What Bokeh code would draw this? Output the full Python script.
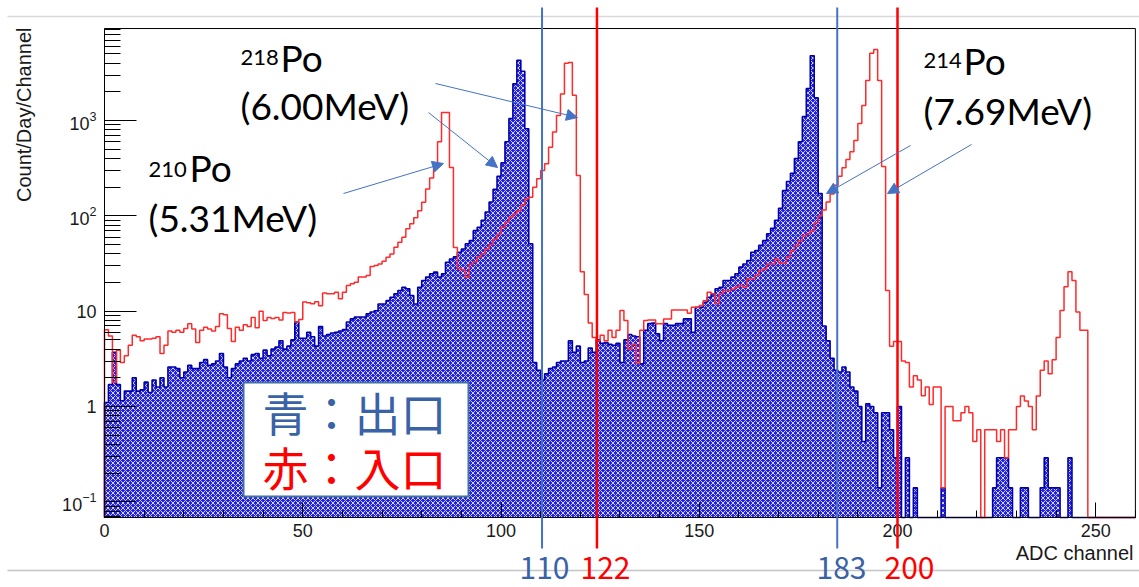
from math import pi

from bokeh.embed import file_html
from bokeh.models import Arrow, BoxAnnotation, Label, NormalHead, Range1d, SingleIntervalTicker
from bokeh.plotting import figure
from bokeh.resources import INLINE

# ---------- data: counts per day per ADC channel (1 channel bins, 0..259) ----------
channels = list(range(260))

# outlet (blue, hatched)
blue_counts = [
    1.1, 1.7, 3.7, 1.7, 1.15, 1.45, 1.45, 2.0, 1.45, 1.5,
    1.8, 1.4, 1.9, 1.6, 2.0, 1.6, 2.6, 2.6, 2.5, 2.0,
    2.3, 2.7, 2.5, 2.5, 2.9, 3.1, 2.7, 2.8, 3.0, 3.6,
    2.6, 2.0, 2.5, 2.8, 3.0, 3.2, 3.0, 3.5, 3.6, 3.2,
    3.9, 3.4, 4.0, 4.2, 4.9, 4.0, 4.3, 5.0, 7.7, 5.2,
    5.2, 6.0, 5.4, 4.3, 6.9, 5.5, 5.7, 5.9, 6.0, 6.2,
    6.4, 7.7, 8.3, 8.7, 8.7, 8.7, 9.4, 9.8, 10.1, 11.9,
    11.9, 12.9, 14.0, 15.2, 16.5, 17.8, 17.2, 14.6, 11.9, 17.8,
    21, 22.8, 24.7, 25.7, 22.8, 24.7, 32.6, 35.3, 37.3, 41.5,
    45, 51, 55, 70, 76, 90, 110, 140, 190, 260,
    360, 600, 1050, 2430, 4300, 3300, 820, 51, 2.9, 2.4,
    1.9, 2.2, 2.5, 2.6, 2.9, 3.0, 3.0, 4.9, 3.7, 4.3,
    2.9, 3.0, 4.1, 3.7, 5.0, 4.6, 4.7, 4.5, 4.4, 4.6,
    2.9, 5.0, 5.7, 5.5, 5.4, 2.8, 6.3, 7.4, 7.5, 5.8,
    4.9, 7.4, 7.1, 7.1, 7.4, 7.4, 8.3, 8.3, 6.0, 11,
    11, 12.4, 14, 15.2, 17.2, 17.8, 21, 21, 22.8, 24.7,
    29, 31.3, 34, 41.5, 43.2, 49, 55, 65, 74, 90,
    120, 184, 230, 280, 400, 600, 1100, 2170, 4800, 1740,
    172, 7, 4.9, 3.2, 2.4, 2.3, 2.6, 2.3, 1.6, 1.45,
    1.0, 0.43, 1.07, 1.0, 0.86, 0.14, 0.86, 0.86, 0.57, 0.29,
    1.0, 0, 0.29, 0, 0.14, 0, 0, 0, 0, 0,
    0, 0.14, 0, 0, 0, 0, 0, 0, 0, 0,
    0, 0, 0, 0, 0.14, 0.29, 0.29, 0.29, 0.14, 0,
    0, 0.14, 0.14, 0, 0, 0, 0.14, 0.29, 0.14, 0.14,
    0.14, 0, 0, 0.29, 0, 0, 0, 0, 0, 0,
    0, 0, 0, 0, 0, 0, 0, 0, 0, 0,
]

# inlet (red line)
red_counts = [
    6.4, 5.5, 1.8, 3.9, 2.9, 3.4, 4.4, 5.6, 5.4, 4.9,
    5.1, 5.1, 5.2, 5.4, 3.6, 4.4, 6.2, 6.0, 6.3, 6.0,
    6.6, 7.4, 6.5, 4.7, 6.3, 6.8, 6.5, 6.2, 6.9, 9.4,
    9.2, 6.6, 4.8, 6.8, 6.3, 7.2, 6.9, 8.6, 6.7, 10.0,
    8.0, 8.6, 8.4, 8.6, 8.1, 9.7, 9.6, 9.7, 7.7, 8.2,
    12.5, 12.3, 12.0, 12.6, 11.4, 15.5, 15.2, 15.2, 15.8, 13.5,
    15.8, 18.6, 19.4, 20.1, 22.8, 22.8, 23.7, 29.4, 30.2, 31.3,
    33.5, 36.9, 39.8, 46.9, 52.8, 59.6, 73.4, 82.5, 95.4, 113,
    139, 192, 250, 350, 600, 1216, 1216, 322, 46.5, 28,
    27, 22.7, 31, 33, 37, 40, 45, 50, 57, 64,
    76, 86, 97, 105, 113, 129, 151, 157, 200, 245,
    300, 352, 526, 757, 1130, 1900, 4000, 4070, 1850, 265,
    26, 15, 7.5, 5.3, 4.9, 5.6, 4.9, 6.3, 5.3, 6.3,
    10.2, 8.0, 4.0, 4.5, 2.85, 6.3, 8.0, 8.1, 8.1, 7.4,
    7.4, 8.3, 8.3, 10.3, 10.3, 10.3, 10.3, 9.5, 11, 11,
    11.5, 12.9, 15.8, 15.2, 12, 15.2, 16.5, 16.5, 17, 17.8,
    18.6, 17.8, 21.9, 21.9, 23.7, 26.8, 27.8, 31.3, 31.3, 35.3,
    32, 32, 36.9, 43.2, 49, 55, 62, 65, 70, 85,
    100, 115, 140, 170, 210, 260, 320, 390, 470, 620,
    930, 1440, 2640, 5100, 5570, 2640, 330, 16.5, 4.3, 4.8,
    4.8, 3.0, 2.9, 1.6, 2.1, 1.9, 1.3, 1.6, 1.05, 1.6,
    1.6, 0.14, 1.0, 1.0, 0.71, 0.71, 0.86, 1.0, 0.86, 0.43,
    0.57, 0, 0.57, 0.57, 0.57, 0.43, 0.57, 0.29, 0.57, 0.57,
    1.0, 1.29, 1.14, 1.0, 0.57, 1.29, 2.4, 3.0, 2.2, 3.1,
    5.3, 10.2, 18, 26, 21, 9.8, 6.3, 6.3, 0, 0,
    0, 0, 0, 0, 0, 0, 0, 0, 0, 0,
]

# energy cut lines drawn on the slide
cut_labels = ["110", "122", "183", "200"]
cut_channels = [110.35, 124.2, 184.8, 200.0]
cut_is_red = [False, True, False, True]

peak_isotopes = ["210", "218", "214"]
peak_energies = ["(5.31MeV)", "(6.00MeV)", "(7.69MeV)"]

legend_rows = ["青：出口", "赤：入口"]

Y_MIN, Y_MAX = 0.0684, 9250
X_MAX = 260

BLUE_TXT = "#3A62A6"
SLIDE_BLUE = "#4472C4"
W, H = 1139, 587


# picture pixel -> data coordinates (ROOT frame: x 104..1135, y 28..517)
def px_x(px):
    return (px - 104) / 3.965


def px_y(py):
    return 10 ** ((406 - py) / 95.3)


def outline(counts):
    xs, ys = [0], [Y_MIN]
    for c, v in zip(channels, counts):
        h = max(v, Y_MIN)
        xs += [c, c + 1]
        ys += [h, h]
    xs.append(X_MAX)
    ys.append(Y_MIN)
    return xs, ys


# the plot area covers the whole canvas; the ROOT frame is drawn inside it
p = figure(
    width=W,
    height=H,
    x_range=Range1d(px_x(0), px_x(W)),
    y_range=Range1d(px_y(H), px_y(0)),
    y_axis_type="log",
    output_backend="svg",
    toolbar_location=None,
    min_border=0,
    min_border_left=0,
    min_border_right=0,
    min_border_top=0,
    min_border_bottom=0,
)
p.grid.visible = False
p.outline_line_color = None

# ---------- axes (ROOT look: ticks inside) ----------
p.xaxis.fixed_location = Y_MIN
p.xaxis.bounds = (0, X_MAX)
p.yaxis.fixed_location = 0
p.yaxis.bounds = (Y_MIN, Y_MAX)
p.xaxis.ticker = SingleIntervalTicker(interval=50, num_minor_ticks=5)
p.xaxis.major_tick_in = 15
p.xaxis.major_tick_out = 0
p.xaxis.minor_tick_in = 7
p.xaxis.minor_tick_out = 0
p.yaxis.major_tick_in = 32
p.yaxis.major_tick_out = 0
p.yaxis.minor_tick_in = 16
p.yaxis.minor_tick_out = 0
p.yaxis.major_label_overrides = {1: "1", 10: "10"}
for ax in (p.xaxis, p.yaxis):
    ax.axis_line_color = "black"
    ax.major_tick_line_color = "black"
    ax.minor_tick_line_color = "black"
    ax.major_label_text_font = "Liberation Sans"
    ax.major_label_text_font_size = "18px"
    ax.major_label_text_color = "#1a1a1a"
p.xaxis.major_label_standoff = 6
p.yaxis.major_label_standoff = 8

# ---------- slide decorations behind ----------
for yy, col in ((16, "#d9d9d9"), (570, "#c4c4c4")):
    p.add_layout(Arrow(end=None, x_start=px_x(7), y_start=px_y(yy), x_end=px_x(W),
                       y_end=px_y(yy), line_color=col, line_width=1.5))

# ---------- histograms ----------
bx, by = outline(blue_counts)
p.varea(
    x=bx, y1=[Y_MIN] * len(bx), y2=by,
    fill_color="#2222e6",
    hatch_pattern="diagonal_cross", hatch_color="white",
    hatch_scale=5, hatch_weight=1, hatch_alpha=0.8,
)
p.line(bx, by, line_color="#0000a8", line_width=1.6)

rx, ry = outline(red_counts)
p.line(rx, ry, line_color="#ff2a2a", line_width=1.5)

# ROOT frame
p.add_layout(BoxAnnotation(left=0, right=X_MAX, bottom=Y_MIN, top=Y_MAX, fill_alpha=0,
                           line_color="black", line_width=1, line_alpha=1))


def text_at(xp, basep, text, size, font, color, **kw):
    # label whose alphabetic baseline sits at picture row basep (bottom anchor + descent)
    p.add_layout(Label(x=px_x(xp), y=px_y(basep + 0.2 * size), text=text,
                       text_font=font, text_font_size=f"{size}px", text_color=color, **kw))


# ---------- cut lines and their values ----------
label_px = [544, 605, 841, 909]
for lab, cx, lx, red in zip(cut_labels, cut_channels, label_px, cut_is_red):
    col = "#FF0000" if red else SLIDE_BLUE
    txt = "#FF0000" if red else BLUE_TXT
    p.add_layout(Arrow(end=None, x_start=cx, y_start=px_y(548), x_end=cx, y_end=px_y(7),
                       line_color=col, line_width=2.5 if red else 2))
    p.add_layout(Label(x=px_x(lx), y=px_y(578), text=lab, text_align="center",
                       text_font="Noto Sans CJK JP", text_font_size="30px", text_color=txt))

# isotope labels (superscript mass number, "Po", energy)
iso_pos = [(148, 172, 189, 182, 232), (240, 60, 280, 72, 120), (923, 63, 963, 75, 125)]
for iso, en, (sx, sy, qx, qy, ey) in zip(peak_isotopes, peak_energies, iso_pos):
    text_at(sx, sy, iso, 22, "Lato", "black")
    text_at(qx, qy, "Po", 37, "Lato", "black")
    text_at(sx, ey, en, 37, "Lato", "black")

arrows_px = [
    (343, 193, 443, 163),
    (428, 112, 497, 167),
    (435, 83, 577, 117),
    (910, 145, 826, 193),
    (971, 144, 887, 193),
]
for x0, y0, x1, y1 in arrows_px:
    p.add_layout(Arrow(
        end=NormalHead(size=11, fill_color=SLIDE_BLUE, line_color=SLIDE_BLUE),
        x_start=px_x(x0), y_start=px_y(y0), x_end=px_x(x1), y_end=px_y(y1),
        line_color=SLIDE_BLUE, line_width=1,
    ))

# legend box
p.add_layout(BoxAnnotation(left=px_x(243), right=px_x(468), bottom=px_y(496), top=px_y(382),
                           fill_color="white", fill_alpha=1, line_color="#41719C",
                           line_width=2, line_alpha=1))
for row, yy, col in zip(legend_rows, (410, 465), (BLUE_TXT, "#FF0000")):
    p.add_layout(Label(x=px_x(262), y=px_y(yy), text=row, text_baseline="middle",
                       text_font="Noto Sans CJK JP", text_font_size="46px", text_color=col))

# axis titles, ROOT style (at the end of the axes)
p.add_layout(Label(x=px_x(23), y=px_y(27), text="Count/Day/Channel", angle=pi / 2,
                   text_align="right", text_baseline="middle", text_font="Liberation Sans",
                   text_font_size="20px", text_color="#1a1a1a"))
text_at(1133, 559, "ADC channel", 20, "Liberation Sans", "#1a1a1a", text_align="right")

open("out.html", "w").write(file_html(p, INLINE))
